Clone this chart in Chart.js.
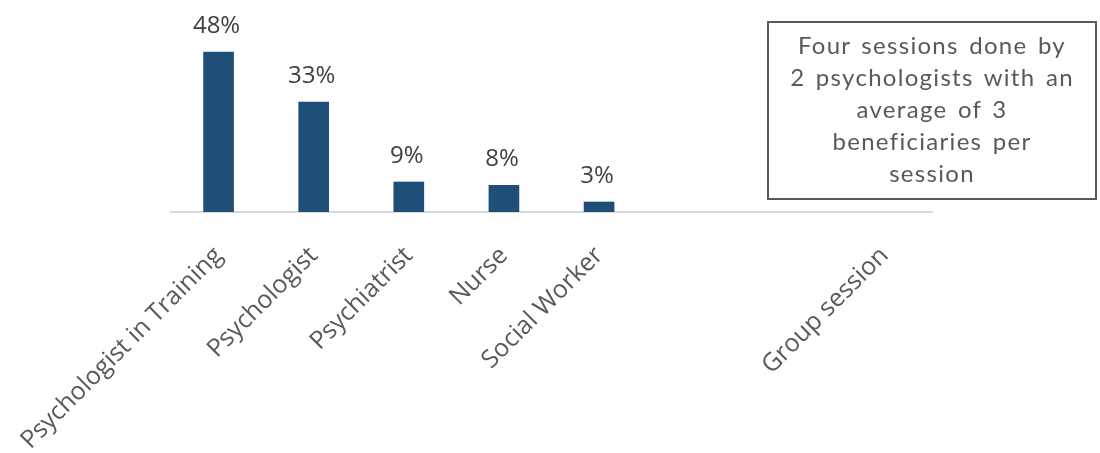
<!DOCTYPE html>
<html>
<head>
<meta charset="utf-8">
<script src="https://cdn.jsdelivr.net/npm/chart.js@4/dist/chart.umd.min.js"></script>
<style>
  body { margin: 0; background: #fff; }
  #wrap { position: relative; width: 1100px; height: 453px; }
  #note {
    position: absolute; left: 767px; top: 21px; width: 326px;
    border: 2px solid #595959; box-sizing: content-box;
    font-family: Lato, sans-serif; font-size: 24px; line-height: 32px;
    letter-spacing: 1.3px; word-spacing: 3px;
    color: #595959; text-align: center; padding-top: 6px; height: 169px;
  }
</style>
</head>
<body>
<div id="wrap">
  <canvas id="bar-chart" width="1100" height="453"></canvas>
  <div id="note">Four sessions done by<br>2 psychologists with an<br>average of 3<br>beneficiaries per<br>session</div>
</div>
<script>
var categories = ["Psychologist in Training", "Psychologist", "Psychiatrist", "Nurse", "Social Worker", "", "", "Group session"];
var shares = [48, 33, 9, 8, 3, null, null, null];

// percent labels above each bar
var valueLabels = {
  id: 'valueLabels',
  afterDatasetsDraw: function(chart) {
    var ctx = chart.ctx;
    var meta = chart.getDatasetMeta(0);
    ctx.save();
    ctx.font = '24px "Open Sans"';
    ctx.fillStyle = '#404040';
    ctx.textAlign = 'center';
    ctx.textBaseline = 'alphabetic';
    meta.data.forEach(function(bar, i) {
      if (shares[i] == null) return;
      ctx.fillText(shares[i] + '%', bar.x - 2, bar.y - 19);
    });
    ctx.restore();
  }
};

function draw() {
  new Chart(document.getElementById("bar-chart"), {
    type: 'bar',
    data: {
      labels: categories,
      datasets: [{
          data: shares,
          backgroundColor: "#1f4e79",
          barThickness: 30
        }
      ]
    },
    options: {
      responsive: false,
      animation: false,
      layout: { padding: { left: 171, right: 168, top: 12, bottom: 0 } },
      plugins: {
        legend: { display: false },
        tooltip: { enabled: false }
      },
      scales: {
        x: {
          grid: { display: false, drawTicks: false },
          border: { display: true, color: '#d9d9d9', width: 2 },
          ticks: {
            color: '#595959',
            font: { family: '"Open Sans"', size: 25 },
            minRotation: 45,
            maxRotation: 45,
            autoSkip: false,
            padding: 29
          },
          afterFit: function(s) {
            s.height = 241;
            s.paddingLeft = 0;
            s.paddingRight = 0;
          }
        },
        y: {
          display: false,
          min: 0,
          max: 60
        }
      }
    },
    plugins: [valueLabels]
  });
}

Promise.all([
  document.fonts.load('25px "Open Sans"')
]).then(draw, draw);
</script>
</body>
</html>
